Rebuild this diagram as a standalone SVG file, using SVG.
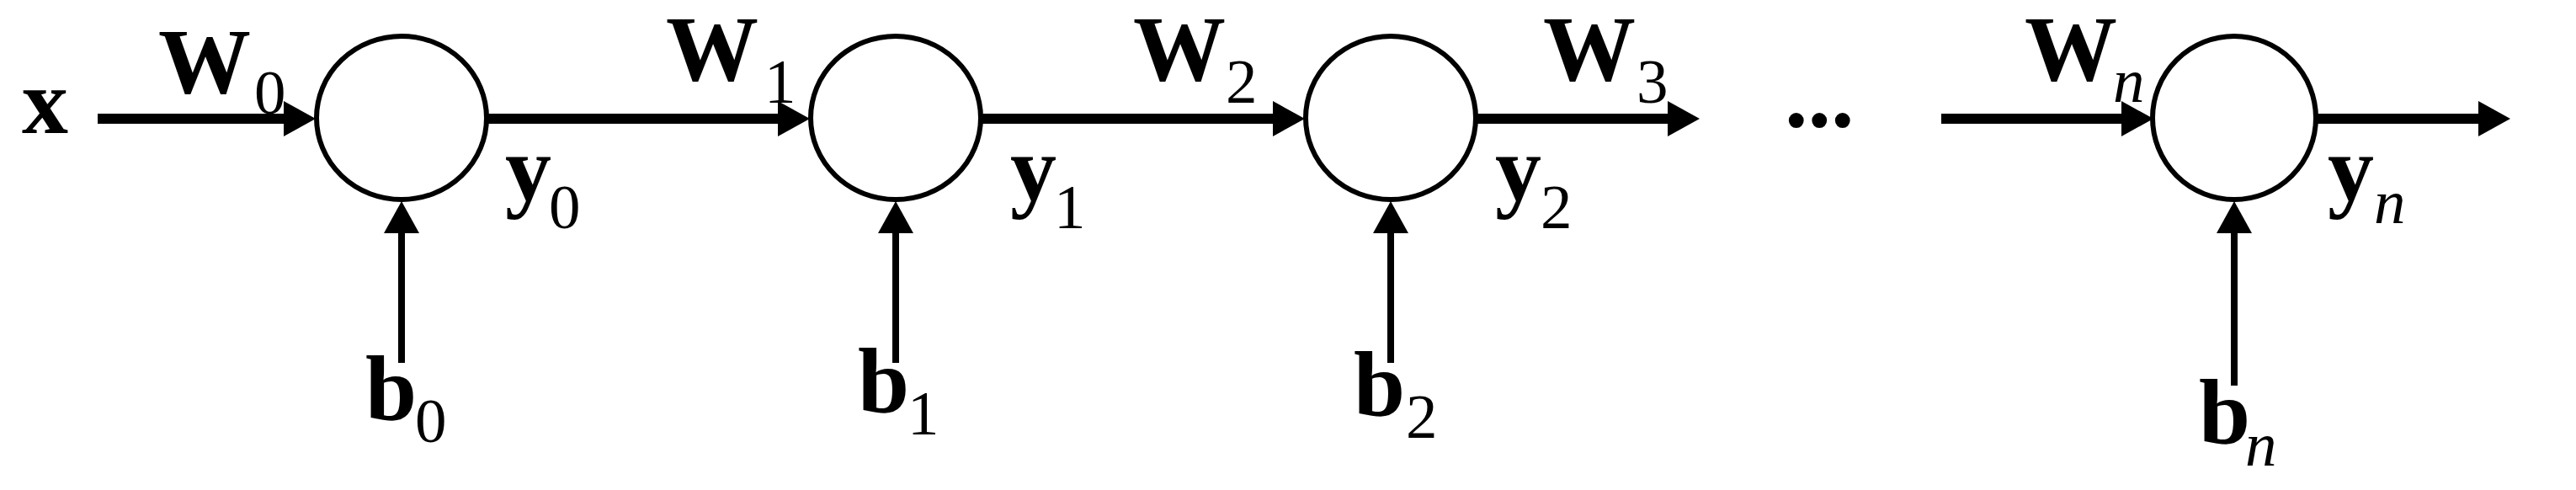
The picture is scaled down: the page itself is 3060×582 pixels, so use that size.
<svg xmlns="http://www.w3.org/2000/svg" width="3060" height="582" viewBox="0 0 3060 582">
<style>
.n{fill:#fff;stroke:#000;stroke-width:6}
.c{stroke:#000;fill:none}
.h{stroke-width:12}
.v{stroke-width:8}
.b{font-family:"Liberation Serif","Times New Roman",serif;font-weight:bold;font-size:110px}
.s{font-family:"Liberation Serif","Times New Roman",serif;font-size:75px}
.i{font-family:"Liberation Serif","Times New Roman",serif;font-size:75px;font-style:italic}
</style>
<defs>
<marker id="ah" markerUnits="userSpaceOnUse" markerWidth="40" markerHeight="44" viewBox="0 -22 38 44" refX="8" refY="0" orient="auto">
<path d="M0,-21 L38,0 L0,21 Z" fill="#000"/>
</marker>
</defs>
<g id="connectors">
<line class="c h" x1="116" y1="141" x2="345" y2="141" marker-end="url(#ah)"/>
<line class="c h" x1="577" y1="141" x2="932" y2="141" marker-end="url(#ah)"/>
<line class="c h" x1="1164" y1="141" x2="1520" y2="141" marker-end="url(#ah)"/>
<line class="c h" x1="1752" y1="141" x2="1989" y2="141" marker-end="url(#ah)"/>
<line class="c h" x1="2306" y1="141" x2="2528" y2="141" marker-end="url(#ah)"/>
<line class="c h" x1="2750" y1="141" x2="2952" y2="141" marker-end="url(#ah)"/>
<line class="c v" x1="477" y1="431" x2="477" y2="269" marker-end="url(#ah)"/>
<line class="c v" x1="1064" y1="431" x2="1064" y2="269" marker-end="url(#ah)"/>
<line class="c v" x1="1652" y1="431" x2="1652" y2="269" marker-end="url(#ah)"/>
<line class="c v" x1="2654" y1="458" x2="2654" y2="269" marker-end="url(#ah)"/>
</g>
<g id="node0"><ellipse class="n" cx="477" cy="140" rx="101" ry="97"/></g>
<g id="node1"><ellipse class="n" cx="1064" cy="140" rx="101" ry="97"/></g>
<g id="node2"><ellipse class="n" cx="1652" cy="140" rx="101" ry="97"/></g>
<g id="noden"><ellipse class="n" cx="2654" cy="140" rx="97" ry="97"/></g>
<g id="labels">
<text class="b" x="26" y="158">x</text>
<text class="b" x="188" y="110">W</text><text class="s" x="302" y="135">0</text>
<text class="b" x="791" y="95">W</text><text class="s" x="908" y="122">1</text>
<text class="b" x="1346" y="95">W</text><text class="s" x="1456" y="122">2</text>
<text class="b" x="1833" y="95">W</text><text class="s" x="1944" y="122">3</text>
<text class="b" x="2405" y="95">W</text><text class="i" x="2510" y="121">n</text>
<text class="b" x="2120" y="150">...</text>
<text class="b" x="600" y="238">y</text><text class="s" x="652" y="271">0</text>
<text class="b" x="1200" y="238">y</text><text class="s" x="1252" y="271">1</text>
<text class="b" x="1776" y="238">y</text><text class="s" x="1830" y="271">2</text>
<text class="b" x="2765" y="238">y</text><text class="i" x="2820" y="265">n</text>
<text class="b" x="434" y="499">b</text><text class="s" x="493" y="525">0</text>
<text class="b" x="1019" y="490">b</text><text class="s" x="1078" y="516">1</text>
<text class="b" x="1608" y="494">b</text><text class="s" x="1670" y="520">2</text>
<text class="b" x="2612" y="527">b</text><text class="i" x="2667" y="553">n</text>
</g>
</svg>
